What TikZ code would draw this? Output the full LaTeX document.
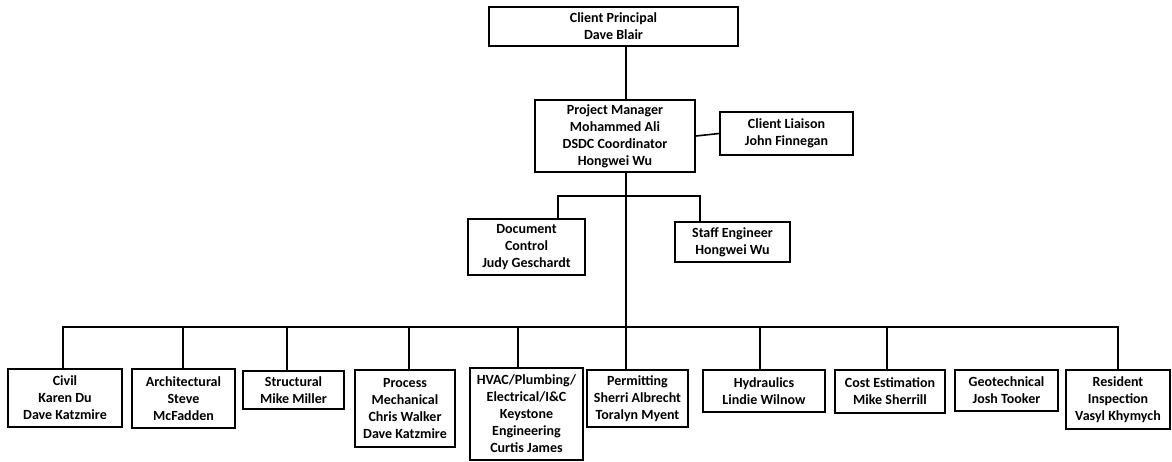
\documentclass[tikz,border=0pt]{standalone}
\usepackage{fontspec}
\setmainfont{Carlito}
\begin{document}
\begin{tikzpicture}[x=1pt,y=-1pt,
  box/.style={draw=black,line width=1.6pt,fill=white,inner sep=0pt,align=center,
    font=\bfseries\fontsize{14}{17}\selectfont},
  link/.style={draw=black,line width=1.6pt}]
\useasboundingbox[fill=white] (0,0) rectangle (1172,461);
% top levels
\node[box,minimum width=249,minimum height=39] (cp) at (613.5,26.5) {Client Principal\\Dave Blair};
\node[box,minimum width=160,minimum height=72] (pm) at (615,136) {Project Manager\\Mohammed Ali\\DSDC Coordinator\\Hongwei Wu};
\node[box,minimum width=133,minimum height=43] (cl) at (786.5,133.5) {Client Liaison\\John Finnegan};
\node[box,minimum width=117,minimum height=56] (dc) at (526.5,247) {Document\\Control\\Judy Geschardt};
\node[box,minimum width=115,minimum height=40] (se) at (732.5,242) {Staff Engineer\\Hongwei Wu};
% bottom row
\node[box,minimum width=114,minimum height=58] (civ) at (65,398) {Civil\\Karen Du\\Dave Katzmire};
\node[box,minimum width=103,minimum height=59] (arc) at (183.5,398.5) {Architectural\\Steve\\McFadden};
\node[box,minimum width=101,minimum height=38] (str) at (293.5,390) {Structural\\Mike Miller};
\node[box,minimum width=100,minimum height=77] (pro) at (405,408.5) {Process\\Mechanical\\Chris Walker\\Dave Katzmire};
\node[box,minimum width=113,minimum height=92] (hva) at (526.5,414) {HVAC/Plumbing/\\Electrical/I\&C\\Keystone\\Engineering\\Curtis James};
\node[box,minimum width=101,minimum height=57] (per) at (637.5,398.5) {Permitting\\Sherri Albrecht\\Toralyn Myent};
\node[box,minimum width=122,minimum height=42] (hyd) at (764,391) {Hydraulics\\Lindie Wilnow};
\node[box,minimum width=110,minimum height=43] (cos) at (890,391.5) {Cost Estimation\\Mike Sherrill};
\node[box,minimum width=103,minimum height=41] (geo) at (1006.5,390.5) {Geotechnical\\Josh Tooker};
\node[box,minimum width=104,minimum height=59] (res) at (1118,399.5) {Resident\\Inspection\\Vasyl Khymych};
% helper coordinates
\coordinate (trunk) at (626,0);
\coordinate (mid) at (0,196);
\coordinate (bus) at (0,327);
\coordinate (dcx) at (558,0);
\coordinate (sex) at (700,0);
\coordinate (civx) at (63,0);
\coordinate (arcx) at (183,0);
\coordinate (strx) at (287,0);
\coordinate (prox) at (409,0);
\coordinate (hvax) at (518,0);
\coordinate (hydx) at (760,0);
\coordinate (cosx) at (887,0);
\coordinate (resx) at (1118,0);
% connectors
\draw[link] (cp.south -| trunk) -- (pm.north -| trunk);
\draw[link] (pm.east) -- (cl.west);
\draw[link] (pm.south -| trunk) -- (per.north -| trunk);
\draw[link] (dc.north -| dcx) -- (mid -| dcx) -- (mid -| sex) -- (se.north -| sex);
\draw[link] (civ.north -| civx) -- (bus -| civx) -- (bus -| resx) -- (res.north -| resx);
\draw[link] (arc.north -| arcx) -- (bus -| arcx);
\draw[link] (str.north -| strx) -- (bus -| strx);
\draw[link] (pro.north -| prox) -- (bus -| prox);
\draw[link] (hva.north -| hvax) -- (bus -| hvax);
\draw[link] (hyd.north -| hydx) -- (bus -| hydx);
\draw[link] (cos.north -| cosx) -- (bus -| cosx);
\end{tikzpicture}
\end{document}
